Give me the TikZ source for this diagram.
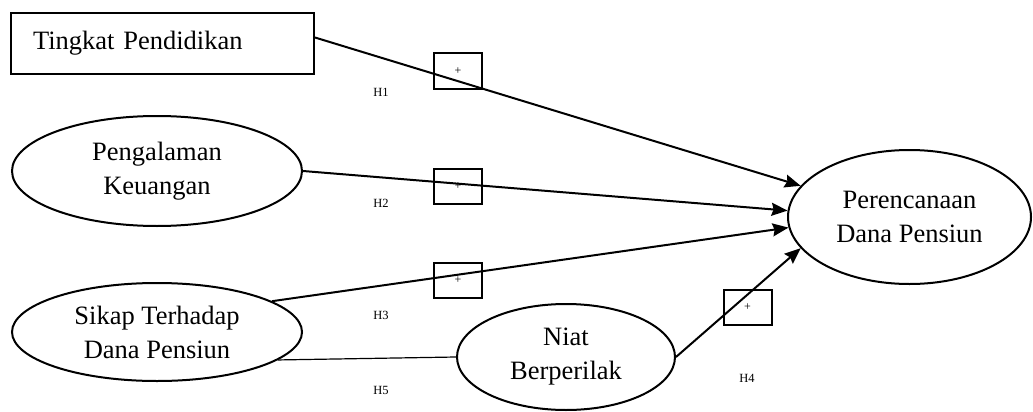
\documentclass[tikz,border=0pt]{standalone}
\usepackage{fontspec}
\setmainfont{Liberation Serif}
\usetikzlibrary{arrows.meta, shapes.geometric}

\begin{document}
\begin{tikzpicture}[
    x=1pt, y=-1pt,
    block/.style={
        rectangle,
        draw,
        line width=2pt,
        minimum height=61pt,
        text width=259pt,
        inner xsep=22pt,
        align=left,
        font=\fontsize{26.5}{34}\selectfont
    },
    var/.style={
        ellipse,
        draw,
        line width=2pt,
        inner sep=0pt,
        align=center,
        font=\fontsize{26.5}{34}\selectfont
    },
    sign/.style={
        rectangle,
        draw,
        line width=2pt,
        minimum width=48pt,
        minimum height=35pt,
        inner sep=0pt,
        font=\fontsize{12}{14}\selectfont
    },
    hyp/.style={font=\fontsize{12.5}{14}\selectfont},
    path/.style={line width=2pt, -{Stealth[length=16pt, width=13pt, inset=2pt]}},
    >=stealth
]
\useasboundingbox (0,0) rectangle (1033,412);

\node[block] (tingkat) at (162.5,43.5) {Tingkat Pendidikan};
\node[var, minimum width=290pt, minimum height=110pt] (pengalaman) at (157,171) {Pengalaman\\Keuangan};
\node[var, minimum width=290pt, minimum height=98pt] (sikap) at (157,332) {Sikap Terhadap\\Dana Pensiun};
\node[var, minimum width=218pt, minimum height=106pt] (niat) at (566,357) {Niat\\Berperilak};
\node[var, minimum width=243pt, minimum height=134pt] (rencana) at (909.5,217) {Perencanaan\\Dana Pensiun};

\draw[path] ([yshift=6pt]tingkat.east) -- (rencana.164);
\draw[path] (pengalaman.east) -- (rencana.177);
\draw[path] (sikap.15) -- (rencana.185);
\draw[path] (niat.east) -- (rencana.196);
\draw[line width=1.2pt] (sikap.-13) -- (niat.west);

\node[sign] (s1) at (458,71) {+};
\node[sign] (s2) at (458,186.5) {+};
\node[sign] (s3) at (458,280.5) {+};
\node[sign] (s4) at (747.5,307.5) {+};

\node[hyp] (h1) at (381,92) {H1};
\node[hyp] (h2) at (381,203) {H2};
\node[hyp] (h3) at (381,315) {H3};
\node[hyp] (h4) at (747,378) {H4};
\node[hyp] (h5) at (381,390) {H5};

\end{tikzpicture}
\end{document}
